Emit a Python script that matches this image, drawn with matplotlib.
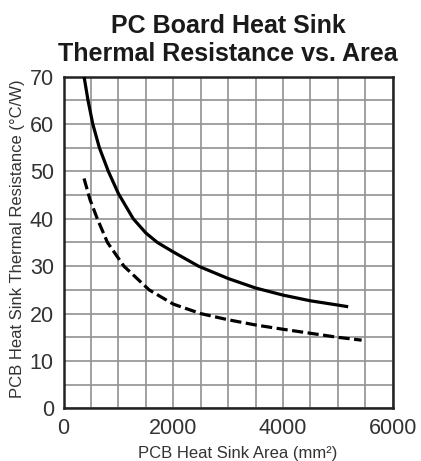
import numpy as np
import matplotlib
matplotlib.use('Agg')
import matplotlib.pyplot as plt

# curves
solid_area = [373, 445, 532, 652, 816, 1000, 1270, 1500, 1710, 2000, 2460, 3000, 3500, 4000, 4500, 5000, 5187]
solid_res = [70, 65, 60, 55, 50, 45.3, 40, 37.0, 35, 33.0, 30, 27.4, 25.4, 23.9, 22.7, 21.8, 21.45]
dash_area = [373, 483, 615, 800, 1100, 1560, 2000, 2500, 3000, 3500, 4000, 4500, 5000, 5432]
dash_res = [48.5, 44, 40, 35, 30, 25, 22.0, 20.0, 18.7, 17.6, 16.7, 15.85, 15.0, 14.4]

xticks = [0, 2000, 4000, 6000]
yticks = [0, 10, 20, 30, 40, 50, 60, 70]

plt.rcParams['font.family'] = ['Liberation Sans', 'DejaVu Sans']

fig = plt.figure(figsize=(4.21, 4.61), dpi=100)
ax = fig.add_axes([0.151, 0.114, 0.782, 0.72])

ax.plot(solid_area, solid_res, color='black', lw=2.3, solid_capstyle='butt', zorder=3)
ax.plot(dash_area, dash_res, color='black', lw=2.3, dashes=(3.5, 1.4), zorder=3)

ax.set_xlim(0, 6000)
ax.set_ylim(0, 70)
ax.set_xticks(xticks)
ax.set_yticks(yticks)
ax.set_xticks(np.arange(0, 6001, 500), minor=True)
ax.set_yticks(np.arange(0, 71, 5), minor=True)
ax.grid(which='both', color='#919191', lw=1.2)
ax.set_axisbelow(True)
ax.tick_params(which='both', length=0)
ax.tick_params(axis='both', labelsize=15.5, labelcolor='#333333')
ax.tick_params(axis='x', pad=7)
ax.tick_params(axis='y', pad=7)

for s in ax.spines.values():
    s.set_color('#222222')
    s.set_linewidth(1.8)

ax.set_xlabel('PCB Heat Sink Area (mm²)', fontsize=12, color='#333333')
ax.xaxis.set_label_coords(0.53, -0.113)
ax.set_ylabel('PCB Heat Sink Thermal Resistance (°C/W)', fontsize=12, color='#333333')
ax.yaxis.set_label_coords(-0.118, 0.51)
ax.set_title('PC Board Heat Sink\nThermal Resistance vs. Area', fontsize=18,
             fontweight='bold', color='#1a1a1a', linespacing=1.2, pad=11)

fig.savefig('out.png', dpi=100)
